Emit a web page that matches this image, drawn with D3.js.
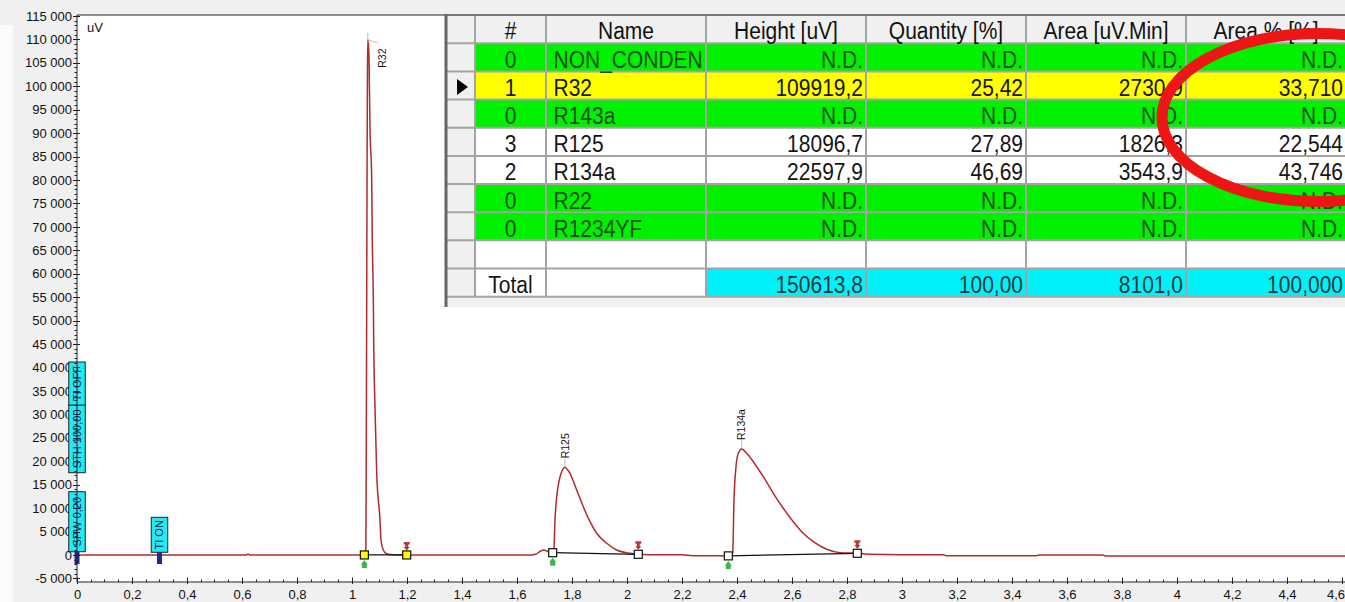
<!DOCTYPE html>
<html><head><meta charset="utf-8">
<script src="https://cdn.jsdelivr.net/npm/d3@7"></script>
<style>
html,body{margin:0;padding:0;background:#f0f0f0;overflow:hidden}
svg{display:block}
text{font-family:"Liberation Sans",Arial,sans-serif}
</style></head><body>
<svg id="c" width="1345" height="602"></svg>
<script>
// ================= DATA =================
// chromatogram trace: retention time [min] and signal [uV]
const retentionTimes = [0,0.300,0.615,0.622,0.630,1.040,1.046,1.0505,1.0520,1.0535,1.0550,1.0562,1.0575,1.0600,1.0618,1.0655,1.0716,1.0738,1.0775,1.0789,1.0836,1.0898,1.1018,1.1055,1.1138,1.1250,1.1382,1.1600,
  1.6500,1.6700,1.6850,1.6980,1.7120,1.7250,1.7300,1.7340,1.7382,1.7444,1.7538,1.7625,1.7745,1.7830,1.7927,1.8171,1.8411,1.8655,1.8898,1.9262,1.9625,2.0109,2.0411,2.0800,
  2.2000,2.2400,2.3684,2.3800,2.3844,2.3891,2.3964,2.4047,2.4171,2.4353,2.4593,2.4956,2.5320,2.5684,2.6047,2.6411,2.6775,2.7262,2.7745,2.8375,2.8800,3.0000,3.1500,3.1600,3.4900,3.5000,3.7300,3.7400,4.6200];
const signalValues = [0,0,0,180,0,0,200,1500,25000,55000,85000,103000,109919,108500,106240,91000,80424,67197,54822,45862,31567,17486,7459,3192,1058,300,80,0,
  0,200,800,1050,750,520,560,900,7459,12430,15993,17763,18700,18250,17422,13859,10296,7096,4621,2488,1058,354,141,60,
  40,-150,-200,-150,400,11726,18830,21689,22600,21689,19897,16697,13155,9955,7096,4621,2829,1208,482,354,150,60,60,-150,-150,0,0,-220,-220];

// integrated peaks
const peakNames = ["R32", "R125", "R134a"];
const peakApexTimes = [1.0575, 1.7745, 2.4171];
const peakApexValues = [109919, 18700, 22600];
const peakStartTimes = [1.045, 1.7298, 2.3684];
const peakStartValues = [0, 480, -200];
const peakEndTimes = [1.199, 2.0411, 2.8375];
const peakEndValues = [0, 141, 354];
const selectedPeak = "R32";

// timed events
const eventLabels = ["SPW 0,20", "STH 100,00", "TI OFF", "TI ON"];
const eventTimes = [0, 0, 0, 0.3];

// axis ticks
const yMajorTicks = d3.range(-5000, 115001, 5000);
const yMinorTicks = d3.range(-5000, 115001, 1000).filter(v => v % 5000 !== 0);
const xMajorTicks = d3.range(0, 24).map(i => +(i * 0.2).toFixed(1));
const xMinorTicks = d3.range(0, 93).map(i => +(i * 0.05).toFixed(2)).filter(v => Math.round(v * 100) % 20 !== 0);
const yUnitLabel = "uV";

// results table
const tableHeaders = ["#", "Name", "Height [uV]", "Quantity [%]", "Area [uV.Min]", "Area % [%]"];
const tableNumbers = ["0", "1", "0", "3", "2", "0", "0"];
const tableNames = ["NON_CONDEN", "R32", "R143a", "R125", "R134a", "R22", "R1234YF"];
const tableHeights = ["N.D.", "109919,2", "N.D.", "18096,7", "22597,9", "N.D.", "N.D."];
const tableQuantities = ["N.D.", "25,42", "N.D.", "27,89", "46,69", "N.D.", "N.D."];
const tableAreas = ["N.D.", "2730,9", "N.D.", "1826,3", "3543,9", "N.D.", "N.D."];
const tableAreaPercents = ["N.D.", "33,710", "N.D.", "22,544", "43,746", "N.D.", "N.D."];
const tableTotals = ["Total", "", "150613,8", "100,00", "8101,0", "100,000"];

// ================= DRAWING =================
const W = 1345, H = 602;
const svg = d3.select("#c");
const FONT = '"Liberation Sans",Arial,sans-serif';

const x = d3.scaleLinear().domain([0, 4.611]).range([77, 1345]);
const y = d3.scaleLinear().domain([-5770, 115200]).range([582, 15]);

const loc = d3.formatLocale({decimal: ",", thousands: " ", grouping: [3], currency: ["", ""], minus: "-"});
const fmtY = loc.format(",d");
const fmtX = loc.format(".1~f");

// backgrounds
svg.append("rect").attr("width", W).attr("height", H).attr("fill", "#f0f0f0");
svg.append("rect").attr("x", 0).attr("y", 25).attr("width", 13).attr("height", H - 25).attr("fill", "#fbfbfb");
svg.append("rect").attr("x", x(0)).attr("y", y.range()[1]).attr("width", W - x(0)).attr("height", y.range()[0] - y.range()[1]).attr("fill", "#fff");

svg.append("clipPath").attr("id", "plotclip").append("rect")
  .attr("x", x(0)).attr("y", y.range()[1]).attr("width", W - x(0)).attr("height", y.range()[0] - y.range()[1]);

// y axis with labels
const yAxisG = svg.append("g").attr("transform", `translate(${x(0)},0)`)
  .call(d3.axisLeft(y).tickValues(yMajorTicks).tickFormat(fmtY).tickSizeInner(4).tickSizeOuter(0).tickPadding(1));
yAxisG.select(".domain").remove();
yAxisG.selectAll(".tick line").remove();
yAxisG.selectAll("text").attr("font-size", 13).attr("font-family", FONT).attr("fill", "#111");

// x axis labels
const xAxisG = svg.append("g").attr("transform", `translate(0,${y.range()[0]})`)
  .call(d3.axisBottom(x).tickValues(xMajorTicks).tickFormat(fmtX).tickSizeInner(0).tickSizeOuter(0).tickPadding(7.5));
xAxisG.select(".domain").remove();
xAxisG.selectAll(".tick line").remove();
xAxisG.selectAll("text").attr("font-size", 13).attr("font-family", FONT).attr("fill", "#111");
// last label at the right edge: keep it inside the window
xAxisG.selectAll(".tick").filter(d => x(d) + 10 > W).select("text")
  .attr("text-anchor", "end").attr("x", d => W - 0.5 - x(d));

// unit label
svg.append("text").attr("x", 87).attr("y", 32).attr("font-size", 13).attr("fill", "#111").text(yUnitLabel);

// plot content
const plot = svg.append("g").attr("clip-path", "url(#plotclip)");
const trace = retentionTimes.map((t, i) => [t, signalValues[i]]);
plot.append("path").datum(trace)
  .attr("d", d3.line().x(d => x(d[0])).y(d => y(d[1])).curve(d3.curveMonotoneX))
  .attr("fill", "none").attr("stroke", "#b02c2c").attr("stroke-width", 1.5);

// peak baselines
peakNames.forEach((p, i) => {
  plot.append("line")
    .attr("x1", x(peakStartTimes[i])).attr("y1", y(peakStartValues[i]))
    .attr("x2", x(peakEndTimes[i])).attr("y2", y(peakEndValues[i]))
    .attr("stroke", "#111").attr("stroke-width", 1.2);
});

// start / end markers
peakNames.forEach((p, i) => {
  const fill = p === selectedPeak ? "#ffff00" : "#ffffff";
  [[peakStartTimes[i], peakStartValues[i], "s"], [peakEndTimes[i], peakEndValues[i], "e"]].forEach(([t, v, k]) => {
    const cx = x(t), cy = y(v);
    if (k === "s") {
      plot.append("path")
        .attr("d", `M${cx},${cy + 5} L${cx + 3.5},${cy + 9.5} L${cx + 2.5},${cy + 9.5} L${cx + 2.5},${cy + 13} L${cx - 2.5},${cy + 13} L${cx - 2.5},${cy + 9.5} L${cx - 3.5},${cy + 9.5} Z`)
        .attr("fill", "#3cb54a");
    } else {
      plot.append("path")
        .attr("d", `M${cx - 3},${cy - 13} L${cx + 3},${cy - 13} L${cx + 3},${cy - 10.5} L${cx + 1.5},${cy - 10.5} L${cx + 1.5},${cy - 8} L${cx + 3},${cy - 8} L${cx},${cy - 4.5} L${cx - 3},${cy - 8} L${cx - 1.5},${cy - 8} L${cx - 1.5},${cy - 10.5} L${cx - 3},${cy - 10.5} Z`)
        .attr("fill", "#b33a3a");
    }
    plot.append("rect").attr("x", cx - 4).attr("y", cy - 4).attr("width", 8).attr("height", 8)
      .attr("fill", fill).attr("stroke", "#111").attr("stroke-width", 1.2);
  });
});

// peak labels
peakNames.forEach((p, i) => {
  const ax = x(peakApexTimes[i]), ay = y(peakApexValues[i]);
  let lx = ax, ly = ay - 9;
  if (i === 0) {
    lx = ax + 14.7; ly = ay + 28;
    plot.append("path").attr("d", `M${ax},${ay - 7} L${ax},${ay} L${ax + 10},${ay + 3}`)
      .attr("fill", "none").attr("stroke", "#aaa").attr("stroke-width", 0.8);
  } else {
    plot.append("line").attr("x1", ax).attr("x2", ax).attr("y1", ay - 1).attr("y2", ay - 8.5)
      .attr("stroke", "#aaa").attr("stroke-width", 0.8);
  }
  plot.append("text").attr("transform", `translate(${lx},${ly}) rotate(-90)`)
    .attr("dy", "0.36em").attr("font-size", 10.5).attr("fill", "#111").text(p);
});

// timed event boxes (stacked above baseline)
const evBottom = [551.7, 472.7, 405, 552.3];
const evHeight = [60, 67.7, 43, 35];
const evW = 16.5;
const evG = svg.append("g");
eventLabels.forEach((lab, i) => {
  const cx = x(eventTimes[i]);
  evG.append("rect").attr("x", cx - evW / 2).attr("y", evBottom[i] - evHeight[i]).attr("width", evW).attr("height", evHeight[i])
    .attr("fill", "#22eaf2").attr("stroke", "#222").attr("stroke-width", 1);
});
// event tick markers on the baseline
[...new Set(eventTimes)].forEach(t => {
  evG.append("rect").attr("x", x(t) - 2.5).attr("y", 552).attr("width", 5).attr("height", 12).attr("fill", "#1f2d8f");
});

// axis lines and ticks (on top of event boxes)
const axG = svg.append("g").attr("stroke", "#222").attr("stroke-width", 1);
axG.append("line").attr("x1", x(0)).attr("x2", x(0)).attr("y1", y.range()[1]).attr("y2", y.range()[0]);
axG.append("line").attr("x1", x(0)).attr("x2", W).attr("y1", y.range()[0]).attr("y2", y.range()[0]);
axG.append("line").attr("x1", x(0)).attr("x2", 446).attr("y1", y.range()[1]).attr("y2", y.range()[1]);
yMajorTicks.forEach(v => axG.append("line").attr("x1", x(0) - 4).attr("x2", x(0) + 3).attr("y1", Math.round(y(v)) + 0.5).attr("y2", Math.round(y(v)) + 0.5));
yMinorTicks.forEach(v => axG.append("line").attr("x1", x(0) - 2.5).attr("x2", x(0)).attr("y1", Math.round(y(v)) + 0.5).attr("y2", Math.round(y(v)) + 0.5));
xMajorTicks.forEach(t => axG.append("line").attr("x1", Math.round(x(t)) + 0.5).attr("x2", Math.round(x(t)) + 0.5).attr("y1", y.range()[0] - 4.5).attr("y2", y.range()[0] + 2));
xMinorTicks.forEach(t => axG.append("line").attr("x1", Math.round(x(t)) + 0.5).attr("x2", Math.round(x(t)) + 0.5).attr("y1", y.range()[0] - 2.5).attr("y2", y.range()[0]));

// event texts
eventLabels.forEach((lab, i) => {
  const cx = x(eventTimes[i]);
  svg.append("text").attr("transform", `translate(${cx},${evBottom[i] - evHeight[i] / 2}) rotate(-90)`)
    .attr("text-anchor", "middle").attr("dy", "0.36em").attr("font-size", 11).attr("fill", "#1a1a4a").text(lab);
});

// ================= TABLE =================
const colEdges = [445, 475, 546, 706, 866, 1026, 1186, 1346];
const tableTop = 14;
const rowY = d3.scaleLinear().domain([0, 1]).range([43.3, 71.45]);
const nRows = 9;
const tg = svg.append("g");
const bgLayer = tg.append("g"), gridLayer = tg.append("g"), textLayer = tg.append("g");
bgLayer.append("rect").attr("x", 445).attr("y", tableTop).attr("width", W - 445).attr("height", 307 - tableTop).attr("fill", "#f0f0f0");

const GREEN = "#00f000", YELLOW = "#ffff00", CYAN = "#00f2f8", WHITE = "#ffffff";
const columns = [tableNumbers, tableNames, tableHeights, tableQuantities, tableAreas, tableAreaPercents];

function cellText(ci, top, txt, color) {
  const x0 = colEdges[ci + 1], x1 = colEdges[ci + 2];
  let tx, anchor;
  if (ci === 0) { tx = (x0 + x1) / 2; anchor = "middle"; }
  else if (ci === 1) { tx = x0 + 7.5; anchor = "start"; }
  else { tx = x1 - 3; anchor = "end"; }
  textLayer.append("text").attr("transform", `translate(${tx},${top + 24.5}) scale(1,1.1)`)
    .attr("text-anchor", anchor).attr("font-size", 21).attr("fill", color).text(txt);
}

// header
tableHeaders.forEach((h, ci) => {
  const x0 = colEdges[ci + 1], x1 = colEdges[ci + 2];
  textLayer.append("text").attr("transform", `translate(${(x0 + x1) / 2},${tableTop + 24.5}) scale(1,1.1)`)
    .attr("text-anchor", "middle").attr("font-size", 21).attr("fill", "#111").text(h);
});

// data rows
tableNames.forEach((name, r) => {
  const top = rowY(r), h = rowY(r + 1) - rowY(r);
  const nd = tableHeights[r] === "N.D.";
  const fill = name === selectedPeak ? YELLOW : (nd ? GREEN : WHITE);
  bgLayer.append("rect").attr("x", colEdges[1]).attr("y", top).attr("width", W - colEdges[1]).attr("height", h).attr("fill", fill);
  columns.forEach((col, ci) => cellText(ci, top, col[r], nd ? "#1d4d1d" : "#151515"));
  if (name === selectedPeak) {
    textLayer.append("path").attr("d", `M457,${top + 7.5} L457,${top + 23.5} L468,${top + 15.5} Z`).attr("fill", "#000");
  }
});
// empty row
bgLayer.append("rect").attr("x", colEdges[1]).attr("y", rowY(7)).attr("width", W - colEdges[1]).attr("height", rowY(8) - rowY(7)).attr("fill", WHITE);
// total row
bgLayer.append("rect").attr("x", colEdges[1]).attr("y", rowY(8)).attr("width", colEdges[3] - colEdges[1]).attr("height", rowY(9) - rowY(8)).attr("fill", WHITE);
bgLayer.append("rect").attr("x", colEdges[3]).attr("y", rowY(8)).attr("width", W - colEdges[3]).attr("height", rowY(9) - rowY(8)).attr("fill", CYAN);
tableTotals.forEach((t, ci) => { if (t) cellText(ci, rowY(8), t, ci >= 2 ? "#153838" : "#151515"); });

// grid lines (beneath the cell texts)
const gl = gridLayer.append("g").attr("stroke", "#a4a4a4").attr("stroke-width", 2);
d3.range(0, nRows + 1).forEach(r => gl.append("line").attr("x1", 445).attr("x2", W).attr("y1", rowY(r)).attr("y2", rowY(r)));
colEdges.slice(1, 7).forEach(cx => gl.append("line").attr("x1", cx).attr("x2", cx).attr("y1", tableTop).attr("y2", rowY(nRows)));
gridLayer.append("line").attr("x1", 445).attr("x2", W).attr("y1", tableTop + 1).attr("y2", tableTop + 1).attr("stroke", "#777").attr("stroke-width", 2);
gridLayer.append("line").attr("x1", 446).attr("x2", 446).attr("y1", tableTop).attr("y2", 307).attr("stroke", "#666").attr("stroke-width", 3);

// red hand-drawn ellipse highlight
svg.append("ellipse").attr("cx", 1318).attr("cy", 117.5).attr("rx", 156).attr("ry", 84)
  .attr("fill", "none").attr("stroke", "#ee1515").attr("stroke-width", 11);
</script>
</body></html>
